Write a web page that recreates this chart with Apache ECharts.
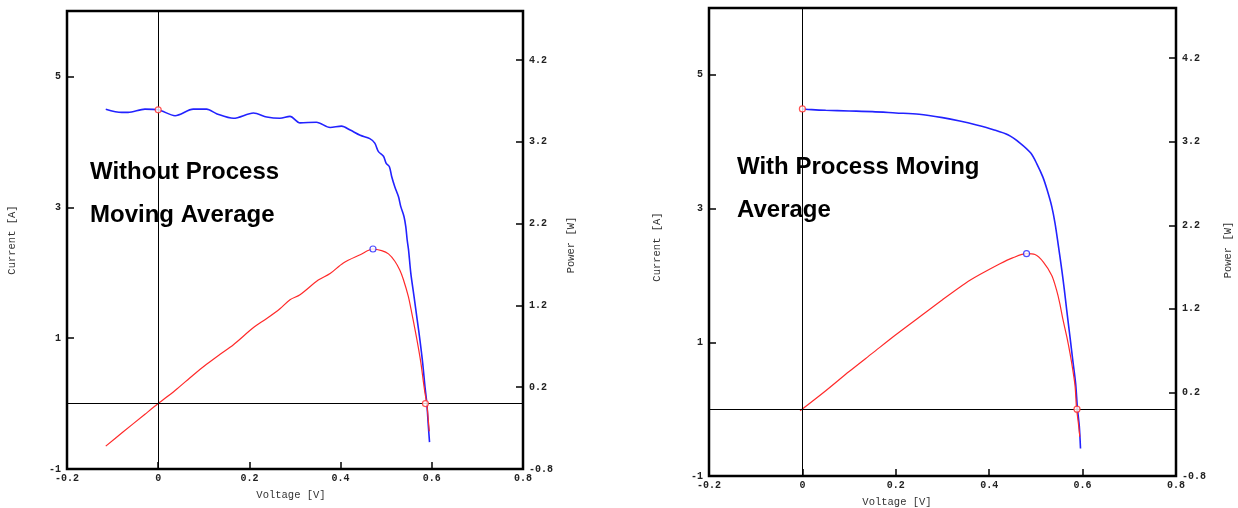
<!DOCTYPE html>
<html>
<head>
<meta charset="utf-8">
<script src="https://cdn.jsdelivr.net/npm/echarts@6/dist/echarts.min.js"></script>
<style>
  html, body { margin: 0; padding: 0; background: #fff; }
  #chart { width: 1238px; height: 508px; }
</style>
</head>
<body>
<div id="chart"></div>
<script>
// I-V sweep, raw samples (no averaging)
const rawCurrentV = [-0.115, -0.08, -0.066, -0.029, 0, 0.037, 0.077, 0.106, 0.128, 0.165, 0.209, 0.238, 0.267, 0.289, 0.311, 0.347, 0.377, 0.402, 0.421, 0.443, 0.464, 0.475, 0.483, 0.494, 0.500, 0.507, 0.512, 0.519, 0.527, 0.532, 0.539, 0.543, 0.546, 0.549, 0.554, 0.561, 0.568, 0.574, 0.580, 0.585, 0.589, 0.592, 0.595];
const rawCurrentA = [4.50, 4.45, 4.45, 4.50, 4.49, 4.40, 4.50, 4.50, 4.43, 4.36, 4.44, 4.38, 4.36, 4.39, 4.29, 4.30, 4.22, 4.24, 4.18, 4.10, 4.05, 3.98, 3.85, 3.78, 3.67, 3.62, 3.47, 3.31, 3.16, 3.01, 2.86, 2.70, 2.50, 2.35, 1.99, 1.64, 1.28, 0.97, 0.62, 0.26, 0.01, -0.30, -0.59];
const rawPowerV = [-0.115, -0.08, -0.029, 0, 0.037, 0.077, 0.106, 0.135, 0.165, 0.209, 0.238, 0.267, 0.289, 0.311, 0.351, 0.377, 0.406, 0.443, 0.471, 0.49, 0.505, 0.519, 0.53, 0.5375, 0.5485, 0.556, 0.563, 0.570, 0.576, 0.581, 0.585, 0.589, 0.592, 0.5945];
const rawPowerW = [-0.52, -0.36, -0.13, 0, 0.16, 0.35, 0.48, 0.60, 0.72, 0.93, 1.04, 1.16, 1.27, 1.33, 1.51, 1.59, 1.72, 1.82, 1.89, 1.87, 1.83, 1.74, 1.63, 1.52, 1.31, 1.11, 0.91, 0.70, 0.50, 0.29, 0.13, 0.0, -0.18, -0.34];
const rawIsc = [0, 4.49];
const rawMpp = [0.471, 1.89];
const rawVoc = [0.586, 0];

// I-V sweep after process moving average
const avgCurrentV = [0, 0.02, 0.05, 0.1, 0.15, 0.2, 0.25, 0.3, 0.337, 0.373, 0.409, 0.441, 0.466, 0.489, 0.502, 0.515, 0.524, 0.534, 0.541, 0.548, 0.5555, 0.561, 0.566, 0.573, 0.579, 0.585, 0.589, 0.593, 0.5955];
const avgCurrentA = [4.49, 4.48, 4.47, 4.46, 4.45, 4.43, 4.41, 4.36, 4.31, 4.25, 4.18, 4.10, 3.98, 3.83, 3.67, 3.47, 3.28, 3.03, 2.78, 2.45, 2.08, 1.78, 1.48, 1.08, 0.73, 0.39, 0.01, -0.26, -0.59];
const avgPowerV = [-0.005, 0.05, 0.1, 0.15, 0.2, 0.25, 0.3, 0.35, 0.38, 0.423, 0.45, 0.48, 0.498, 0.516, 0.534, 0.544, 0.551, 0.558, 0.566, 0.573, 0.579, 0.584, 0.587, 0.591, 0.594];
const avgPowerW = [-0.02, 0.22, 0.45, 0.67, 0.89, 1.10, 1.31, 1.51, 1.61, 1.74, 1.81, 1.86, 1.85, 1.76, 1.60, 1.43, 1.27, 1.07, 0.87, 0.67, 0.47, 0.27, 0.01, -0.17, -0.33];
const avgIsc = [0, 4.49];
const avgMpp = [0.48, 1.86];
const avgVoc = [0.588, 0];

// Axis ranges and tick steps
const voltageAxis = { min: -0.2, max: 0.8, step: 0.2 };
const currentAxis = { min: -1, max: 6, step: 2 };
const powerAxis = { min: -0.8, max: 4.8, step: 1 };

const panelTitles = [
  ['Without Process', 'Moving Average'],
  ['With Process Moving', 'Average']
];

const zip = (xs, ys) => xs.map((x, i) => [x, ys[i]]);

const BLUE = '#2222ff';
const RED = '#ff2a2a';
const monoLabel = {
  fontFamily: 'Liberation Mono', fontSize: 10, fontWeight: 'bold', color: '#222'
};
const tickStyle = { show: true, inside: true, length: 7, lineStyle: { color: '#000', width: 1.5 } };

const grids = [
  { left: 67, top: 11, width: 456, height: 458 },
  { left: 709, top: 8, width: 467, height: 468 }
];

function xAxisFor(gi) {
  return {
    type: 'value', gridIndex: gi, position: 'bottom',
    min: voltageAxis.min, max: voltageAxis.max, interval: voltageAxis.step,
    axisLine: { show: false, onZero: false }, splitLine: { show: false },
    axisTick: tickStyle,
    axisLabel: Object.assign({ margin: 4 }, monoLabel)
  };
}
function yAxisFor(gi, ax, pos) {
  return {
    type: 'value', gridIndex: gi, position: pos,
    min: ax.min, max: ax.max, interval: ax.step,
    axisLine: { show: false, onZero: false }, splitLine: { show: false },
    axisTick: tickStyle,
    axisLabel: Object.assign({ margin: 6, showMaxLabel: false }, monoLabel)
  };
}

function panelSeries(gi, cV, cA, pV, pW, isc, mpp, voc) {
  const xi = gi, yi = gi * 2, pi = gi * 2 + 1;
  return [
    {
      type: 'line', xAxisIndex: xi, yAxisIndex: yi, data: zip(cV, cA),
      showSymbol: false, smooth: 0.3, lineStyle: { color: BLUE, width: 1.6 },
      z: 3,
      markLine: {
        silent: true, symbol: 'none', label: { show: false },
        lineStyle: { color: '#000', width: 1, type: 'solid' },
        data: [{ xAxis: 0 }, { yAxis: 0 }]
      }
    },
    {
      type: 'line', xAxisIndex: xi, yAxisIndex: pi, data: zip(pV, pW),
      showSymbol: false, smooth: 0.3, lineStyle: { color: RED, width: 1.2 }, z: 4
    },
    {
      type: 'scatter', xAxisIndex: xi, yAxisIndex: yi, data: [isc, voc],
      symbol: 'circle', symbolSize: 6, z: 6,
      itemStyle: { color: '#fff', borderColor: RED, borderWidth: 1.2 }
    },
    {
      type: 'scatter', xAxisIndex: xi, yAxisIndex: pi, data: [mpp],
      symbol: 'circle', symbolSize: 6, z: 6,
      itemStyle: { color: '#fff', borderColor: BLUE, borderWidth: 1.2 }
    }
  ];
}

function axisTitle(text, x, y, rotate) {
  return {
    type: 'text', x: x, y: y, rotation: rotate ? Math.PI / 2 : 0,
    style: {
      text: text, fontFamily: 'Liberation Mono', fontSize: 10.5,
      fill: '#333', align: 'center', verticalAlign: 'middle'
    }
  };
}
function panelTitle(text, x, y) {
  return {
    type: 'text', x: x, y: y, z: 10,
    style: {
      text: text, fontFamily: 'Liberation Sans', fontWeight: 'bold', fontSize: 24,
      fill: '#000', align: 'left', verticalAlign: 'middle'
    }
  };
}

const chart = echarts.init(document.getElementById('chart'), null, { renderer: 'canvas' });
chart.setOption({
  animation: false,
  backgroundColor: '#fff',
  grid: grids.map(g => Object.assign({ show: true, borderColor: '#000', borderWidth: 2.5, backgroundColor: 'transparent' }, g)),
  xAxis: [xAxisFor(0), xAxisFor(1)],
  yAxis: [
    yAxisFor(0, currentAxis, 'left'), yAxisFor(0, powerAxis, 'right'),
    yAxisFor(1, currentAxis, 'left'), yAxisFor(1, powerAxis, 'right')
  ],
  series: [
    ...panelSeries(0, rawCurrentV, rawCurrentA, rawPowerV, rawPowerW, rawIsc, rawMpp, rawVoc),
    ...panelSeries(1, avgCurrentV, avgCurrentA, avgPowerV, avgPowerW, avgIsc, avgMpp, avgVoc)
  ],
  graphic: [
    axisTitle('Current [A]', 12, 240, true),
    axisTitle('Power [W]', 571, 245, true),
    axisTitle('Voltage [V]', 291, 495, false),
    axisTitle('Current [A]', 657, 247, true),
    axisTitle('Power [W]', 1228, 250, true),
    axisTitle('Voltage [V]', 897, 502, false),
    panelTitle(panelTitles[0][0], 90, 172),
    panelTitle(panelTitles[0][1], 90, 215),
    panelTitle(panelTitles[1][0], 737, 167),
    panelTitle(panelTitles[1][1], 737, 210)
  ]
});
</script>
</body>
</html>
